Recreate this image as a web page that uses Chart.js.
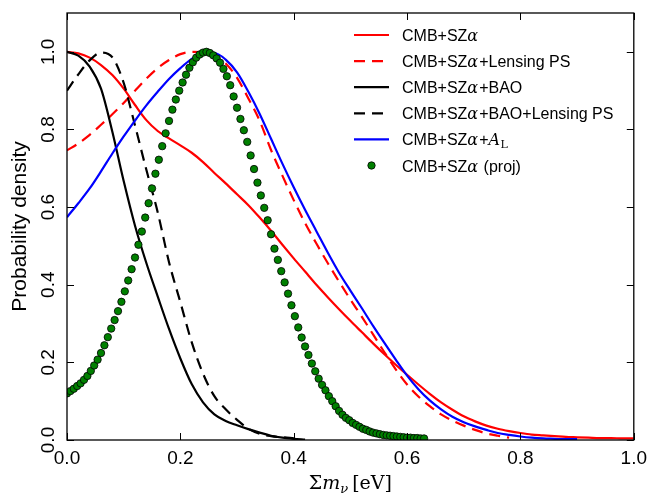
<!DOCTYPE html>
<html>
<head>
<meta charset="utf-8">
<script src="https://cdn.jsdelivr.net/npm/chart.js@4.4.0/dist/chart.umd.min.js"></script>
<style>
  html, body { margin: 0; padding: 0; background: #fff; }
  #c { display: block; }
</style>
</head>
<body>
<canvas id="c" width="654" height="495"></canvas>
<script>
// ---------- data ----------
const massGrid = [0.00,0.02,0.04,0.06,0.08,0.10,0.12,0.14,0.16,0.18,0.20,0.22,0.24,0.26,0.28,0.30,0.32,0.34,0.36,0.38,0.40,0.42,0.44,0.46,0.48,0.50,0.52,0.54,0.56,0.58,0.60,0.62,0.64,0.66,0.68,0.70,0.72,0.74,0.76,0.78,0.80,0.82,0.84,0.86,0.88,0.90,0.92,0.94,0.96,0.98,1.00];

const cmbSz = [1.000,0.996,0.985,0.966,0.940,0.905,0.863,0.824,0.796,0.777,0.759,0.740,0.716,0.688,0.661,0.633,0.605,0.573,0.539,0.503,0.468,0.434,0.400,0.368,0.337,0.307,0.278,0.249,0.221,0.194,0.168,0.143,0.119,0.097,0.078,0.061,0.048,0.037,0.029,0.023,0.018,0.014,0.012,0.010,0.008,0.007,0.006,0.005,0.005,0.004,0.004];

const cmbSzLens = [0.746,0.764,0.786,0.812,0.839,0.868,0.900,0.931,0.958,0.979,0.994,1.000,0.999,0.991,0.970,0.933,0.880,0.822,0.747,0.681,0.618,0.559,0.506,0.456,0.408,0.362,0.318,0.272,0.226,0.182,0.143,0.112,0.087,0.066,0.050,0.037,0.026,0.017,0.011,0.006,null,null,null,null,null,null,null,null,null,null,null];

const cmbSzBao = [1.000,0.990,0.962,0.905,0.794,0.667,0.552,0.456,0.370,0.286,0.210,0.144,0.097,0.066,0.049,0.038,0.028,0.019,0.011,0.006,0.003,0.001,null,null,null,null,null,null,null,null,null,null,null,null,null,null,null,null,null,null,null,null,null,null,null,null,null,null,null,null,null];

const cmbSzBaoLens = [0.900,0.942,0.978,0.998,0.986,0.920,0.810,0.696,0.587,0.458,0.355,0.252,0.171,0.113,0.079,0.052,0.029,0.016,0.010,0.007,0.005,null,null,null,null,null,null,null,null,null,null,null,null,null,null,null,null,null,null,null,null,null,null,null,null,null,null,null,null,null,null];

const cmbSzAL = [0.574,0.610,0.648,0.692,0.738,0.782,0.823,0.862,0.897,0.930,0.958,0.982,0.997,0.997,0.980,0.947,0.897,0.840,0.776,0.712,0.651,0.593,0.538,0.483,0.431,0.385,0.340,0.294,0.250,0.207,0.166,0.131,0.102,0.079,0.060,0.046,0.035,0.026,0.018,0.013,0.009,0.006,0.004,0.003,0.002,0.002,null,null,null,null,null];

const projMass = [0.000,0.006,0.012,0.018,0.024,0.030,0.036,0.042,0.048,0.054,0.060,0.066,0.072,0.078,0.084,0.090,0.096,0.102,0.108,0.114,0.120,0.126,0.132,0.138,0.144,0.150,0.156,0.162,0.168,0.174,0.180,0.186,0.192,0.198,0.204,0.210,0.216,0.222,0.228,0.234,0.240,0.246,0.252,0.258,0.264,0.270,0.276,0.282,0.288,0.294,0.300,0.306,0.312,0.318,0.324,0.330,0.336,0.342,0.348,0.354,0.360,0.366,0.372,0.378,0.384,0.390,0.396,0.402,0.408,0.414,0.420,0.426,0.432,0.438,0.444,0.450,0.456,0.462,0.468,0.474,0.480,0.486,0.492,0.498,0.504,0.510,0.516,0.522,0.528,0.534,0.540,0.546,0.552,0.558,0.564,0.570,0.576,0.582,0.588,0.594,0.600,0.606,0.612,0.618,0.624,0.630];

const projDensity = [0.120,0.126,0.132,0.139,0.146,0.155,0.165,0.178,0.192,0.207,0.224,0.244,0.265,0.287,0.309,0.332,0.356,0.383,0.411,0.440,0.470,0.503,0.537,0.573,0.610,0.648,0.686,0.722,0.757,0.790,0.822,0.851,0.877,0.900,0.921,0.941,0.959,0.973,0.985,0.993,0.998,1.000,0.997,0.991,0.983,0.972,0.956,0.937,0.914,0.885,0.856,0.827,0.798,0.768,0.733,0.698,0.663,0.630,0.598,0.566,0.530,0.493,0.464,0.435,0.406,0.377,0.347,0.319,0.290,0.264,0.241,0.219,0.197,0.177,0.158,0.142,0.128,0.113,0.100,0.087,0.075,0.065,0.057,0.051,0.044,0.039,0.034,0.029,0.026,0.022,0.019,0.017,0.015,0.013,0.012,0.011,0.010,0.009,0.008,0.007,0.006,0.006,0.005,0.005,0.004,0.004];

const xTickValues = [0, 0.2, 0.4, 0.6, 0.8, 1.0];
const yTickValues = [0, 0.2, 0.4, 0.6, 0.8, 1.0];
const yTickLabels = ['0.0', '0.2', '0.4', '0.6', '0.8', '1.0'];

// ---------- helpers ----------
function pts(xs, ys) { return xs.map((x, i) => ({ x: x, y: ys[i] })); }

const SANS = "'Liberation Sans', Arial, sans-serif";
const SERIF = "'DejaVu Serif', 'Liberation Serif', serif";
const DASH = [11, 7];
const LW = 2.2;

function lineDs(label, ys, color, dashed, order) {
  return {
    label: label,
    data: pts(massGrid, ys),
    borderColor: color,
    borderWidth: LW,
    borderDash: dashed ? DASH : [],
    pointRadius: 0,
    fill: false,
    cubicInterpolationMode: 'monotone',
    spanGaps: false,
    clip: 0,
    order: order
  };
}

const datasets = [
  lineDs('CMB+SZα', cmbSz, '#ff0000', false, 6),
  lineDs('CMB+SZα+Lensing PS', cmbSzLens, '#ff0000', true, 5),
  lineDs('CMB+SZα+BAO', cmbSzBao, '#000000', false, 4),
  lineDs('CMB+SZα+BAO+Lensing PS', cmbSzBaoLens, '#000000', true, 3),
  lineDs('CMB+SZα+A_L', cmbSzAL, '#0000ff', false, 2),
  {
    label: 'CMB+SZα (proj)',
    data: pts(projMass, projDensity),
    showLine: false,
    pointRadius: 3.7,
    pointBackgroundColor: '#008000',
    pointBorderColor: '#000000',
    pointBorderWidth: 0.8,
    clip: 0,
    order: 1
  }
];

// ---------- rich text drawing ----------
function drawRich(ctx, x, y, parts) {
  for (const p of parts) {
    ctx.font = p.font;
    ctx.fillText(p.t, x, y + (p.dy || 0));
    x += ctx.measureText(p.t).width + (p.after || 0);
  }
}
const F_TXT = "16px " + SANS;
const F_ALPHA = "italic 16px " + SERIF;
const F_A = "italic 16px " + SERIF;
const F_SUB = "11px " + SERIF;
const alphaParts = [{ t: 'CMB+SZ', font: F_TXT }, { t: 'α', font: F_ALPHA, after: 1 }];

const legendItems = [
  { color: '#ff0000', dash: [], parts: alphaParts },
  { color: '#ff0000', dash: DASH, parts: alphaParts.concat([{ t: '+Lensing PS', font: F_TXT }]) },
  { color: '#000000', dash: [], parts: alphaParts.concat([{ t: '+BAO', font: F_TXT }]) },
  { color: '#000000', dash: DASH, parts: alphaParts.concat([{ t: '+BAO+Lensing PS', font: F_TXT }]) },
  { color: '#0000ff', dash: [], parts: alphaParts.concat([{ t: '+', font: F_TXT }, { t: 'A', font: F_A, after: 0.5 }, { t: 'L', font: F_SUB, dy: 3 }]) },
  { marker: true, parts: alphaParts.concat([{ t: ' (proj)', font: F_TXT }]) }
];

const decor = {
  id: 'decor',
  afterDraw(chart) {
    const { ctx, chartArea: a, scales: { x, y } } = chart;
    ctx.save();
    // ticks (inward, on all four sides)
    ctx.strokeStyle = '#000';
    ctx.lineWidth = 1;
    ctx.beginPath();
    for (const v of xTickValues) {
      const p = Math.round(x.getPixelForValue(v)) + 0.5;
      ctx.moveTo(p, a.bottom); ctx.lineTo(p, a.bottom - 7);
      ctx.moveTo(p, a.top); ctx.lineTo(p, a.top + 7);
    }
    for (const v of yTickValues) {
      const p = Math.round(y.getPixelForValue(v)) + 0.5;
      ctx.moveTo(a.left, p); ctx.lineTo(a.left + 7, p);
      ctx.moveTo(a.right, p); ctx.lineTo(a.right - 7, p);
    }
    ctx.stroke();
    ctx.lineWidth = 1.3;
    ctx.strokeRect(a.left, a.top, a.right - a.left, a.bottom - a.top);

    // y tick labels (rotated)
    ctx.fillStyle = '#000';
    ctx.font = "19px " + SANS;
    ctx.textAlign = 'center';
    ctx.textBaseline = 'alphabetic';
    yTickValues.forEach((v, i) => {
      const p = y.getPixelForValue(v);
      ctx.save();
      ctx.translate(a.left - 13, p);
      ctx.rotate(-Math.PI / 2);
      ctx.fillText(yTickLabels[i], 0, 0);
      ctx.restore();
    });

    // y axis title
    ctx.save();
    ctx.font = "21px " + SANS;
    ctx.translate(26, (a.top + a.bottom) / 2);
    ctx.rotate(-Math.PI / 2);
    ctx.fillText('Probability density', 0, 0);
    ctx.restore();

    // x axis title: Σm_ν [eV]
    ctx.textAlign = 'left';
    const xParts = [
      { t: 'Σ', font: "19px " + SERIF },
      { t: 'm', font: "italic 19px " + SERIF },
      { t: 'ν', font: "italic 13px " + SERIF, dy: 4, after: 4 },
      { t: '[eV]', font: "19px " + SERIF }
    ];
    let w = 0;
    for (const p of xParts) { ctx.font = p.font; w += ctx.measureText(p.t).width + (p.after || 0); }
    drawRich(ctx, (a.left + a.right) / 2 - w / 2, 489, xParts);

    // legend
    const lx0 = 354, lx1 = 389, tx = 402, y0 = 35, dy = 26.1;
    legendItems.forEach((it, i) => {
      const cy = y0 + i * dy;
      if (it.marker) {
        ctx.beginPath();
        ctx.arc((lx0 + lx1) / 2, cy, 3.7, 0, Math.PI * 2);
        ctx.fillStyle = '#008000';
        ctx.fill();
        ctx.lineWidth = 0.8;
        ctx.strokeStyle = '#000';
        ctx.stroke();
      } else {
        ctx.beginPath();
        ctx.setLineDash(it.dash);
        ctx.strokeStyle = it.color;
        ctx.lineWidth = LW;
        ctx.moveTo(lx0, cy); ctx.lineTo(lx1, cy);
        ctx.stroke();
        ctx.setLineDash([]);
      }
      ctx.fillStyle = '#000';
      drawRich(ctx, tx, cy + 6, it.parts);
    });
    ctx.restore();
  }
};

new Chart(document.getElementById('c'), {
  type: 'line',
  data: { datasets: datasets },
  options: {
    responsive: false,
    animation: false,
    events: [],
    layout: { padding: { left: 0, right: 17, top: 13, bottom: 0 } },
    plugins: { legend: { display: false }, tooltip: { enabled: false } },
    scales: {
      x: {
        type: 'linear', min: 0, max: 1,
        grid: { display: false, drawTicks: false },
        border: { display: false },
        ticks: {
          stepSize: 0.2, maxRotation: 0, minRotation: 0, padding: 7,
          color: '#000', font: { family: SANS, size: 19 },
          callback: v => Number(v).toFixed(1)
        },
        afterFit: s => { s.height = 55; }
      },
      y: {
        type: 'linear', min: 0, max: 1.1,
        grid: { display: false, drawTicks: false },
        border: { display: false },
        ticks: { display: false, stepSize: 0.2 },
        afterFit: s => { s.width = 67; }
      }
    }
  },
  plugins: [decor]
});
</script>
</body>
</html>
